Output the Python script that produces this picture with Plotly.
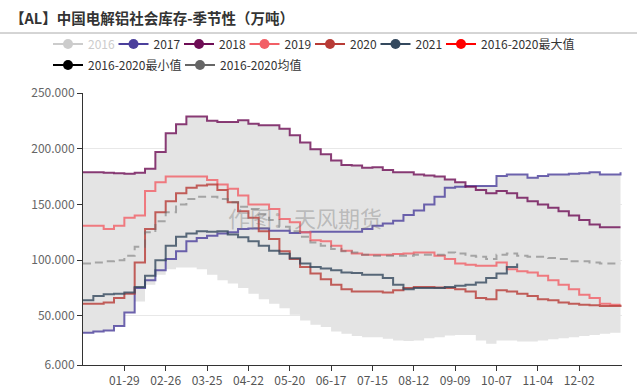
import pandas as pd
import plotly.graph_objects as go

# ---- data (weekly, 2020 calendar used as season axis) ----
weeks = pd.date_range("2020-01-01", periods=53, freq="7D")
tick_dates = pd.date_range("2020-01-29", periods=12, freq="28D")

y_ticks = [6, 50, 100, 150, 200, 250]
y_tick_text = ["6.000", "50.000", "100.000", "150.000", "200.000", "250.000"]

v2016 = [35, 36, 37, 41, 53, 63, 78, 87, 92, 93.5, 93.5, 92, 87, 82, 79, 75, 70, 65, 61, 57,
         51, 46, 42, 40, 36, 34, 32, 31, 31, 29.5, 28, 27.5, 28, 30, 31, 32.5, 33, 33, 28, 25,
         28, 28, 27, 27, 28, 29, 30, 31, 32, 33, 34, 35, 35]
v2017 = [35, 36, 37, 41, 53, 75, 82, 91, 101, 108, 117, 120, 122, 124, 125, 128, 128.5, 128.5, 126.5, 126.5,
         124.5, 125, 125.5, 125.5, 125.5, 125.5, 125.5, 128, 131, 133, 135.5, 140.5, 144.5, 150, 157, 165, 166, 166.5, 166.5, 166.5,
         175.5, 177, 177, 174, 175.5, 177, 177, 177.5, 178, 179, 177, 177, 179]
v2018 = [179, 179, 178.5, 178, 177.5, 178.5, 182, 197, 214, 222, 229, 229, 225, 224, 224, 225.5, 222.5, 221, 221, 218,
         212, 205.5, 199.5, 195, 189.5, 185.5, 185, 183, 183.5, 181, 179, 179, 177, 176, 175, 172.5, 170, 166, 163, 160,
         162, 160, 156, 153, 150, 147, 144, 140, 136, 132, 129.5, 129.5, 129.5]
v2019 = [131, 131, 128, 131, 138, 140, 162, 170, 175, 175, 175, 175, 172, 168, 164, 158, 150, 150, 146, 137,
         134, 125, 118, 117, 113, 108.6, 106, 105, 105, 105, 105.5, 106, 107, 107, 104, 101, 97, 96, 95, 95,
         98, 92, 90, 89, 86, 82, 78, 74, 69, 66, 61, 60, 60]
v2020 = [61, 61, 62, 66, 70, 98, 128, 143, 153, 160, 165, 167, 168, 163, 152, 144, 138, 126, 119, 108,
         101, 94, 88, 83, 78, 74, 72, 72, 72, 71, 73, 75, 76, 76, 75.5, 75, 74, 72, 66, 65,
         73, 72, 70, 68, 65, 64, 62, 61, 60, 59.5, 59, 59, 60]
v2021 = [64, 68, 69.5, 70, 71, 76, 86, 100, 113, 121, 124, 126, 125.5, 126, 123, 120.5, 117, 113, 108.6, 105.7,
         101.8, 97, 94, 92.5, 91, 89, 88.6, 87, 87, 84, 78, 74, 75, 75, 75, 76, 77, 78, 80, 84,
         88, 94, 97]
v_max = [179, 179, 178.5, 178, 177.5, 178.5, 182, 197, 214, 222, 229, 229, 225, 224, 224, 225.5, 222.5, 221, 221, 218,
         212, 205.5, 199.5, 195, 189.5, 185.5, 185, 183, 183.5, 181, 179, 179, 177, 176, 175, 172.5, 170, 166.5, 166.5, 166.5,
         175.5, 177, 177, 174, 175.5, 177, 177, 177.5, 178, 179, 177, 177, 179]
v_min = [35, 36, 37, 41, 53, 63, 78, 87, 92, 93.5, 93.5, 92, 87, 82, 79, 75, 70, 65, 61, 57,
         51, 46, 42, 40, 36, 34, 32, 31, 31, 29.5, 28, 27.5, 28, 30, 31, 32.5, 33, 33, 28, 25,
         28, 28, 27, 27, 28, 29, 30, 31, 32, 33, 34, 35, 35]
v_mean = [97, 98, 99, 100, 104, 112, 125, 135, 143, 150, 155, 157, 157, 155, 152, 148, 146, 141, 136, 130,
          126, 121, 116, 113, 110, 108, 107, 105, 104, 104, 104, 104, 105, 105, 105, 107, 106, 104, 103, 101,
          105, 106, 104, 103, 103, 102, 101, 99, 99, 98, 97, 97, 97]

FONT = "Noto Sans CJK SC"

fig = go.Figure()

# band min-max
fig.add_trace(go.Scatter(x=weeks, y=v_min, mode="lines", line=dict(width=0, shape="hv", color="rgba(0,0,0,0)"),
                         showlegend=False, hoverinfo="skip"))
fig.add_trace(go.Scatter(x=weeks, y=v_max, mode="lines", line=dict(width=0, shape="hv", color="rgba(0,0,0,0)"),
                         fill="tonexty", fillcolor="#e4e4e4", showlegend=False, hoverinfo="skip"))

series = [
    ("2016", v2016, "#cccccc", "legendonly"),
    ("2017", v2017, "#4b3f9c", True),
    ("2018", v2018, "#6e0d55", True),
    ("2019", v2019, "#f25f66", True),
    ("2020", v2020, "#b83b36", True),
    ("2021", v2021, "#34495e", True),
]
for name, vals, col, vis in series:
    fig.add_trace(go.Scatter(x=weeks[:len(vals)], y=vals, mode="lines", name=name, visible=vis,
                             line=dict(color=col, width=2, shape="hv"), opacity=0.8, showlegend=False))

fig.add_trace(go.Scatter(x=weeks, y=v_mean, mode="lines", name="2016-2020均值",
                         line=dict(color="#666666", width=2, shape="hv", dash="8px,5px"),
                         opacity=0.5, showlegend=False))

# legend entries (name, colour, entry width)
leg1 = [("<span style='color:#cccccc'>2016</span>", "#cccccc", 20.5), ("2017", "#4b3f9c", 20.5),
        ("2018", "#6e0d55", 20.5), ("2019", "#f25f66", 20.5), ("2020", "#b83b36", 20.5),
        ("2021", "#34495e", 20.5), ("2016-2020最大值", "#ff0000", 100)]
leg2 = [("2016-2020最小值", "#000000", 87), ("2016-2020均值", "#666666", 90)]
for nm, col, ew in leg1:
    fig.add_trace(go.Scatter(x=[None], y=[None], mode="lines+markers", name=nm, legend="legend",
                             legendwidth=ew, line=dict(color=col, width=2), marker=dict(color=col, size=10)))
for nm, col, ew in leg2:
    fig.add_trace(go.Scatter(x=[None], y=[None], mode="lines+markers", name=nm, legend="legend2",
                             legendwidth=ew, line=dict(color=col, width=2), marker=dict(color=col, size=10)))

L, R, T, B = 83, 15, 93, 26
W, H = 637, 391
pw, ph = W - L - R, H - T - B

def px_x(p):
    return (p - L) / pw

def px_y(p):
    return (H - B - p) / ph

fig.update_layout(
    width=W, height=H,
    margin=dict(l=L, r=R, t=T, b=B, autoexpand=False),
    paper_bgcolor="white", plot_bgcolor="white",
    font=dict(family=FONT, size=12, color="#333333"),
    legend=dict(orientation="h", x=px_x(48), y=px_y(44), xanchor="left", yanchor="middle",
                traceorder="normal",
                font=dict(size=12, color="#333333", family=FONT), bgcolor="rgba(0,0,0,0)"),
    legend2=dict(orientation="h", x=px_x(48), y=px_y(65), xanchor="left", yanchor="middle",
                 traceorder="normal",
                 font=dict(size=12, color="#333333", family=FONT), bgcolor="rgba(0,0,0,0)"),
    xaxis=dict(type="date", range=["2020-01-01", "2020-12-31"], tickvals=tick_dates, tickformat="%m-%d",
               ticks="outside", ticklen=5, tickcolor="#333333", showline=True, linecolor="#333333",
               linewidth=1, showgrid=False, zeroline=False, tickfont=dict(size=12, color="#555555")),
    yaxis=dict(range=[6, 250], tickvals=y_ticks, ticktext=y_tick_text, ticks="outside", ticklen=5,
               tickcolor="#333333", showline=True, linecolor="#333333", linewidth=1,
               showgrid=True, gridcolor="#e8e8e8", zeroline=False, tickfont=dict(size=12, color="#666666")),
    showlegend=True,
    hovermode=False,
)

fig.add_annotation(text="<b>【AL】中国电解铝社会库存-季节性（万吨）</b>", xref="paper", yref="paper",
                   x=px_x(8), y=px_y(17), xanchor="left", yanchor="middle", showarrow=False,
                   font=dict(size=14.5, color="#333333", family=FONT))
fig.add_annotation(text="作图：天风期货", xref="paper", yref="paper", x=px_x(305), y=px_y(217),
                   xanchor="center", yanchor="middle", showarrow=False,
                   font=dict(size=22, color="rgba(120,120,120,0.4)", family=FONT))
fig.add_shape(type="line", xref="paper", yref="paper", x0=px_x(0), x1=px_x(637), y0=px_y(33), y1=px_y(33),
              line=dict(color="#aaaaaa", width=1))

fig.write_html("out.html", config={"displayModeBar": False},
               post_script="document.body.style.margin='0';document.body.style.padding='0';")
